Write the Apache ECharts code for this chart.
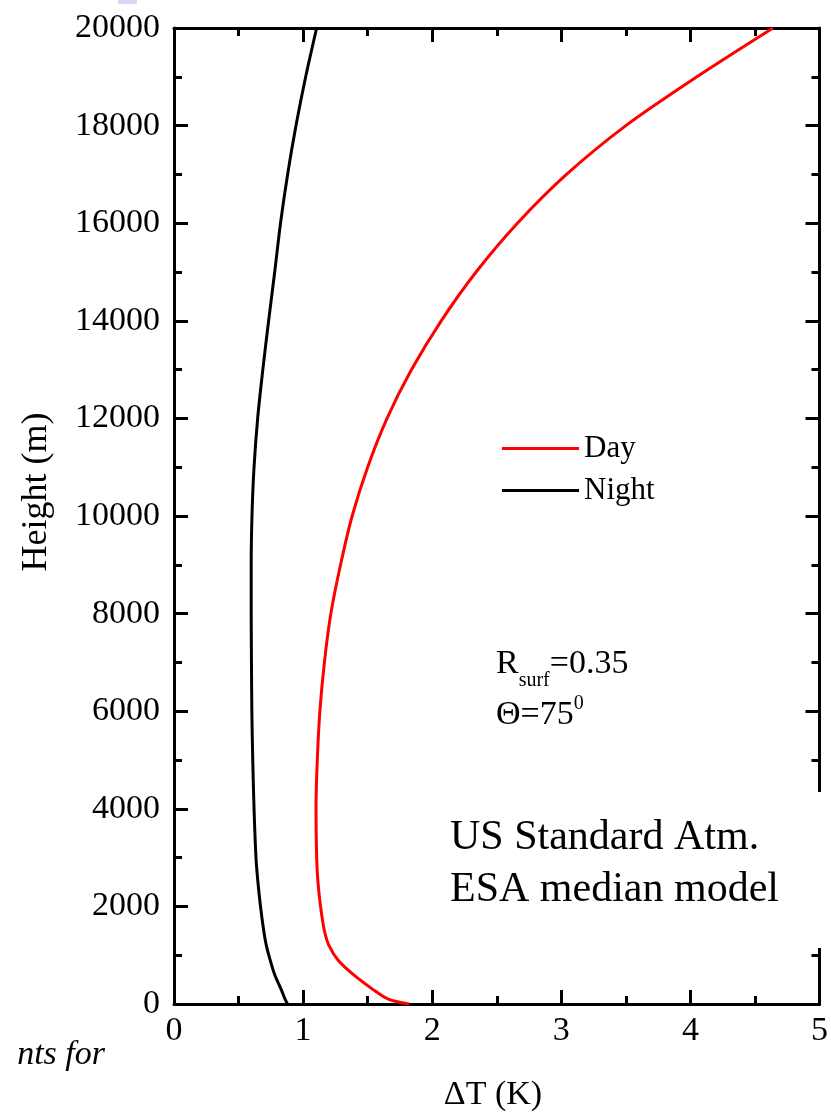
<!DOCTYPE html>
<html>
<head>
<meta charset="utf-8">
<script src="https://cdn.jsdelivr.net/npm/echarts@6/dist/echarts.min.js"></script>
<style>
  html, body { margin: 0; padding: 0; background: #fff; }
  #chart { width: 831px; height: 1113px; }
</style>
</head>
<body>
<div id="chart"></div>
<script>
// heights (m) shared by both profiles
var heights = [0, 100, 300, 600, 900, 1200, 1500, 2000, 2500, 3000, 4000, 5000, 6000, 7000, 8000, 9000,
  10000, 11000, 12000, 13000, 14000, 15000, 16000, 17000, 18000, 19000, 20000];
// delta T (K)
var dayDT = [1.82, 1.66, 1.54, 1.39, 1.27, 1.20, 1.165, 1.135, 1.115, 1.105, 1.10, 1.11, 1.13, 1.165, 1.215, 1.29,
  1.38, 1.50, 1.65, 1.84, 2.07, 2.34, 2.66, 3.04, 3.50, 4.05, 4.64];
var nightDT = [0.88, 0.86, 0.83, 0.78, 0.745, 0.715, 0.695, 0.67, 0.65, 0.635, 0.62, 0.61, 0.603, 0.60, 0.598, 0.598,
  0.604, 0.62, 0.648, 0.688, 0.733, 0.78, 0.825, 0.88, 0.945, 1.02, 1.105];
var xTicks = [0, 5, 1];       // min, max, interval
var yTicks = [0, 20000, 2000];

var serif = "'Liberation Serif', 'DejaVu Serif', serif";

function pairs (xs) {
  return xs.map(function (v, i) { return [v, heights[i]]; });
}

function axisStyle (showLabel) {
  return {
    axisLine: { show: true, onZero: false, lineStyle: { color: '#000', width: 3 } },
    axisTick: { show: true, inside: true, length: 14, lineStyle: { color: '#000', width: 3 } },
    minorTick: { show: true, splitNumber: 2, length: 8, lineStyle: { color: '#000', width: 3 } },
    splitLine: { show: false },
    axisLabel: {
      show: showLabel, color: '#000', fontFamily: serif, fontSize: 34,
      formatter: function (v) { return String(v); }
    }
  };
}

var chart = echarts.init(document.getElementById('chart'));

var xBottom = Object.assign({ type: 'value', position: 'bottom', min: xTicks[0], max: xTicks[1], interval: xTicks[2] }, axisStyle(true));
xBottom.axisLabel.margin = 10;
var xTop = Object.assign({ type: 'value', position: 'top', min: xTicks[0], max: xTicks[1], interval: xTicks[2] }, axisStyle(false));
var yLeft = Object.assign({ type: 'value', position: 'left', min: yTicks[0], max: yTicks[1], interval: yTicks[2] }, axisStyle(true));
yLeft.axisLabel.margin = 14;
var yRight = Object.assign({ type: 'value', position: 'right', min: yTicks[0], max: yTicks[1], interval: yTicks[2] }, axisStyle(false));

function txt (s, size, extra) {
  return Object.assign({ text: s, fontFamily: serif, fontSize: size, fill: '#000' }, extra || {});
}

var option = {
  backgroundColor: '#fff',
  animation: false,
  grid: { left: 174, right: 9, top: 28, bottom: 109, containLabel: false },
  xAxis: [xBottom, xTop],
  yAxis: [yLeft, yRight],
  legend: {
    orient: 'vertical',
    left: 497,
    top: 428,
    icon: 'rect',
    itemWidth: 77,
    itemHeight: 3,
    itemGap: 11,
    textStyle: { color: '#000', fontFamily: serif, fontSize: 31, padding: [0, 0, 0, 0] },
    data: ['Day', 'Night']
  },
  series: [
    {
      name: 'Day',
      type: 'line',
      data: pairs(dayDT),
      showSymbol: false,
      smooth: 0.3,
      lineStyle: { color: '#ff0000', width: 3 },
      itemStyle: { color: '#ff0000' }
    },
    {
      name: 'Night',
      type: 'line',
      data: pairs(nightDT),
      showSymbol: false,
      smooth: 0.3,
      lineStyle: { color: '#000', width: 3 },
      itemStyle: { color: '#000' }
    }
  ],
  graphic: [
    // white patch over the lower right of the frame
    { type: 'rect', shape: { x: 420, y: 792, width: 420, height: 156 }, style: { fill: '#fff' }, z: 100 },
    { type: 'rect', shape: { x: 118, y: 0, width: 19, height: 4 }, style: { fill: '#d8d8f0' }, z: 100 },
    {
      type: 'text', x: 450, y: 812, z: 101,
      style: txt('US Standard Atm.\nESA median model', 42, { lineHeight: 52 })
    },
    {
      type: 'text', x: 496, y: 647, z: 101,
      style: {
        text: '{b|R}{s|surf}{b|=0.35}',
        fill: '#000',
        rich: {
          b: { fontFamily: serif, fontSize: 34, fill: '#000', verticalAlign: 'bottom' },
          s: { fontFamily: serif, fontSize: 20, fill: '#000', padding: [0, 0, -10, 0], verticalAlign: 'bottom' }
        }
      }
    },
    {
      type: 'text', x: 496, y: 698, z: 101,
      style: {
        text: '{b|Θ=75}{p|0}',
        fill: '#000',
        rich: {
          b: { fontFamily: serif, fontSize: 34, fill: '#000', verticalAlign: 'top' },
          p: { fontFamily: serif, fontSize: 20, fill: '#000', verticalAlign: 'top', padding: [-4, 0, 0, 0] }
        }
      }
    },
    {
      type: 'text', x: 493, y: 1095, z: 101,
      style: txt('ΔT (K)', 34, { align: 'center', verticalAlign: 'middle' })
    },
    {
      type: 'text', x: 37, y: 492, rotation: Math.PI / 2, z: 101,
      style: txt('Height (m)', 36, { align: 'center', verticalAlign: 'middle' })
    },
    {
      type: 'text', x: 105, y: 1055, z: 101,
      style: txt('nts for', 34, { fontStyle: 'italic', align: 'right', verticalAlign: 'middle' })
    }
  ]
};

chart.setOption(option);
</script>
</body>
</html>
